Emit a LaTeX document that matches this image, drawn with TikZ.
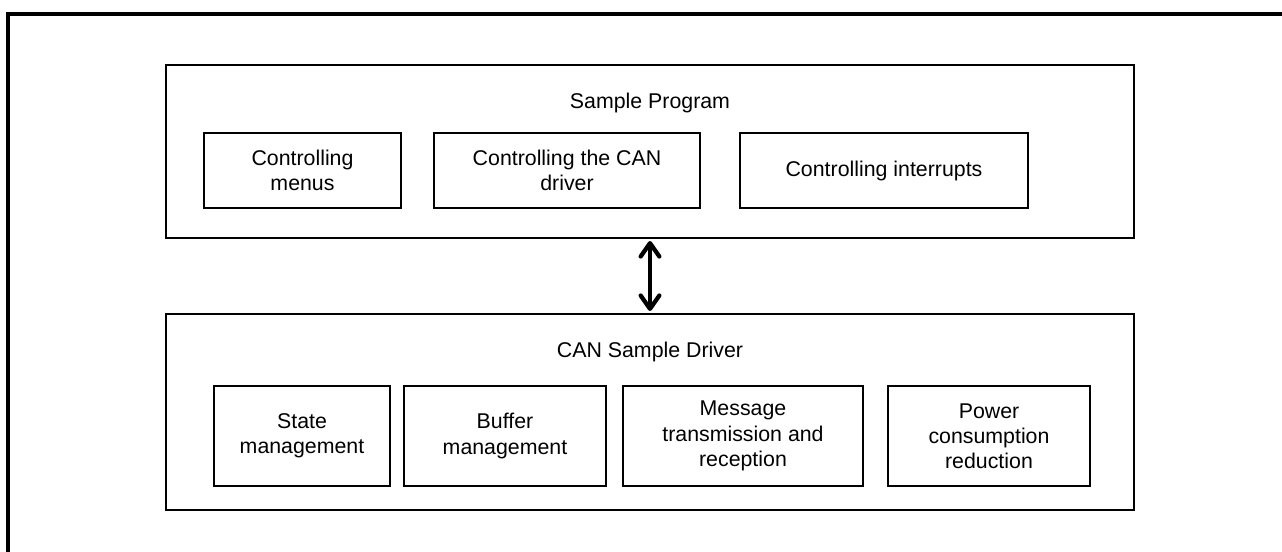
\documentclass[tikz,border=0pt]{standalone}
\usepackage{fontspec}
\setmainfont{Liberation Sans}
\usetikzlibrary{arrows.meta}
\begin{document}
\begin{tikzpicture}[x=0.75pt,y=-0.75pt,
  box/.style={draw=black, line width=1.5pt, rectangle, inner sep=0pt, align=center,
     font=\fontsize{16}{18.9}\selectfont},
  title/.style={inner sep=0pt, font=\fontsize{16}{18.9}\selectfont},
  frame/.style={line width=2.3pt, line cap=rect},
  barb/.tip={Straight Barb[length=10pt,width=14pt,line width=3.2pt,round]},
  biarrow/.style={line width=3.4pt, barb-barb}
]
\useasboundingbox (0,0) rectangle (1282,552);
% outer frame (cropped)
\coordinate (fTL) at (8,14);
\coordinate (fTR) at (1290,14);
\coordinate (fBL) at (8,560);
\draw[frame] (fBL) -- (fTL) -- (fTR);

% containers
\node[box, minimum width=968*0.75pt, minimum height=173*0.75pt] (prog) at (650,151.5) {};
\node[box, minimum width=968*0.75pt, minimum height=196*0.75pt] (drv) at (650,412) {};
\node[title] (progT) at (650,103) {Sample Program};
\node[title] (drvT) at (650,352) {CAN Sample Driver};

% top inner boxes
\node[box, minimum width=197*0.75pt, minimum height=75*0.75pt] (menus) at (302.5,170.5) {Controlling\\menus};
\node[box, minimum width=266*0.75pt, minimum height=75*0.75pt] (candrv) at (567,170.5) {Controlling the CAN\\driver};
\node[box, minimum width=288*0.75pt, minimum height=75*0.75pt] (intr) at (884,170.5) {Controlling interrupts};

% bottom inner boxes
\node[box, minimum width=176*0.75pt, minimum height=100*0.75pt] (state) at (302,436) {State\\management};
\node[box, minimum width=202*0.75pt, minimum height=100*0.75pt] (buf) at (505,436) {Buffer\\management};
\node[box, minimum width=240*0.75pt, minimum height=100*0.75pt] (msg) at (743,436) {Message\\transmission and\\reception};
\node[box, minimum width=202*0.75pt, minimum height=100*0.75pt] (pow) at (989,436) {Power\\consumption\\reduction};

% arrow
\draw[biarrow, shorten <=1.5pt, shorten >=1.5pt] (prog.south) -- (drv.north);
\end{tikzpicture}
\end{document}
